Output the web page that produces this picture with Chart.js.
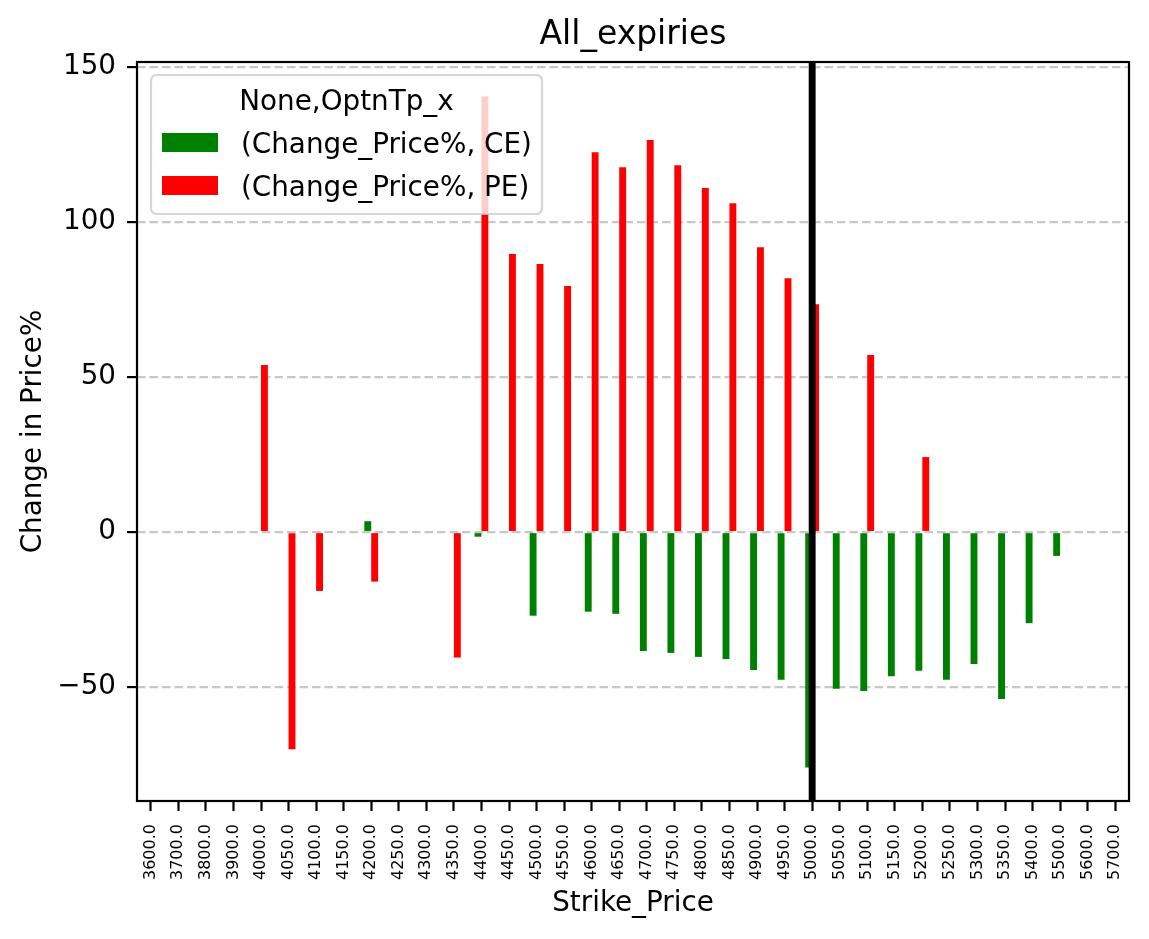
<!DOCTYPE html>
<html>
<head>
<meta charset="utf-8">
<script src="https://cdn.jsdelivr.net/npm/chart.js@4.4.1/dist/chart.umd.min.js"></script>
<style>
html, body { margin: 0; padding: 0; background: #ffffff; }
#wrap { width: 1149px; height: 939px; }
</style>
</head>
<body>
<div id="wrap"><canvas id="c" width="1149" height="939"></canvas></div>
<script>
// ---- data ----
const strikeLabels = ['3600.0','3700.0','3800.0','3900.0','4000.0','4050.0','4100.0','4150.0','4200.0','4250.0',
  '4300.0','4350.0','4400.0','4450.0','4500.0','4550.0','4600.0','4650.0','4700.0','4750.0',
  '4800.0','4850.0','4900.0','4950.0','5000.0','5050.0','5100.0','5150.0','5200.0','5250.0',
  '5300.0','5350.0','5400.0','5500.0','5600.0','5700.0'];
const ceChange = [null, null, null, null, null, null, null, null, 3.5, null,
  null, null, -1.5, null, -27.0, null, -25.7, -26.4, -38.4, -39.0,
  -40.3, -41.0, -44.5, -47.7, -76.0, -50.6, -51.3, -46.5, -44.8, -47.7,
  -42.6, -53.9, -29.4, -7.7, null, null];
const peChange = [null, null, null, null, 53.9, -70.1, -19.0, null, -16.0, null,
  null, -40.5, 140.6, 89.7, 86.5, 79.4, 122.6, 117.7, 126.5, 118.4,
  111.0, 106.1, 91.9, 81.9, 73.5, null, 57.1, null, 24.2, null,
  null, null, null, null, null, null];
const yTickValues = [-50, 0, 50, 100, 150];
const seriesNames = ['(Change_Price%, CE)', '(Change_Price%, PE)'];
const seriesColors = ['#008000', '#ff0000'];
const chartTitle = 'All_expiries';
const legendTitle = 'None,OptnTp_x';
const xAxisTitle = 'Strike_Price';
const yAxisTitle = 'Change in Price%';
const markerStrike = '5000.0';
const yMin = -86.8;
const yMax = 151.7;

const FONT = "'DejaVu Sans', 'Liberation Sans', sans-serif";

function roundRectPath(ctx, x, y, w, h, r) {
  ctx.beginPath();
  ctx.moveTo(x + r, y);
  ctx.lineTo(x + w - r, y);
  ctx.arcTo(x + w, y, x + w, y + r, r);
  ctx.lineTo(x + w, y + h - r);
  ctx.arcTo(x + w, y + h, x + w - r, y + h, r);
  ctx.lineTo(x + r, y + h);
  ctx.arcTo(x, y + h, x, y + h - r, r);
  ctx.lineTo(x, y + r);
  ctx.arcTo(x, y, x + r, y, r);
  ctx.closePath();
}

const overlayPlugin = {
  id: 'mplOverlay',
  afterDraw(chart) {
    const ctx = chart.ctx;
    const a = chart.chartArea;
    ctx.save();
    // axes spines
    ctx.strokeStyle = '#000000';
    ctx.lineWidth = 2.2;
    ctx.setLineDash([]);
    ctx.strokeRect(a.left, a.top, a.right - a.left, a.bottom - a.top);
    // vertical marker line at the chosen strike
    const idx = strikeLabels.indexOf(markerStrike);
    const px = chart.scales.x.getPixelForValue(idx);
    ctx.fillStyle = '#000000';
    ctx.fillRect(px - 3.4, a.top, 6.9, a.bottom - a.top);
    // legend (inside axes, upper left)
    const lx = a.left + 14, ly = a.top + 13, lw = 391, lh = 139;
    roundRectPath(ctx, lx, ly, lw, lh, 5.5);
    ctx.fillStyle = 'rgba(255,255,255,0.8)';
    ctx.fill();
    ctx.strokeStyle = 'rgba(204,204,204,0.8)';
    ctx.lineWidth = 2.2;
    ctx.stroke();
    ctx.font = '27.8px ' + FONT;
    ctx.fillStyle = '#000000';
    ctx.textBaseline = 'alphabetic';
    ctx.textAlign = 'center';
    ctx.fillText(legendTitle, lx + lw / 2, ly + 35);
    ctx.textAlign = 'left';
    chart.data.datasets.forEach((ds, i) => {
      const py = ly + 58 + i * 43;
      ctx.fillStyle = ds.backgroundColor;
      ctx.fillRect(lx + 11, py, 56, 19);
      ctx.fillStyle = '#000000';
      ctx.fillText(ds.label, lx + 90, py + 20);
    });
    ctx.restore();
  }
};

new Chart(document.getElementById('c'), {
  type: 'bar',
  data: {
    labels: strikeLabels,
    datasets: [
      { label: seriesNames[0], data: ceChange, backgroundColor: seriesColors[0], borderWidth: 0,
        categoryPercentage: 0.5, barPercentage: 1.0 },
      { label: seriesNames[1], data: peChange, backgroundColor: seriesColors[1], borderWidth: 0,
        categoryPercentage: 0.5, barPercentage: 1.0 }
    ]
  },
  options: {
    responsive: false,
    animation: false,
    devicePixelRatio: 1,
    layout: { padding: { left: 0, right: 20, top: 0, bottom: 0 } },
    plugins: {
      legend: { display: false },
      tooltip: { enabled: false },
      title: {
        display: true, text: chartTitle, color: '#000000', fullSize: false,
        font: { family: FONT, size: 33, weight: 'normal', lineHeight: 1.2 },
        padding: { top: 15.4, bottom: 7 }
      }
    },
    scales: {
      x: {
        type: 'category',
        offset: true,
        grid: { display: true, drawOnChartArea: false, offset: false, drawTicks: true,
                tickLength: 10, tickColor: '#000000', tickWidth: 2.2, color: '#000000', tickBorderDash: [] },
        border: { display: false },
        ticks: { autoSkip: false, minRotation: 90, maxRotation: 90, color: '#000000',
                 font: { family: FONT, size: 16 }, padding: 13 },
        title: { display: true, text: xAxisTitle, color: '#000000',
                 font: { family: FONT, size: 27.8, weight: 'normal', lineHeight: 1.2 },
                 padding: { top: 0, bottom: 18.6 } },
        afterFit(s) { s.height = 138; }
      },
      y: {
        type: 'linear',
        min: yMin,
        max: yMax,
        z: 1,
        afterBuildTicks(s) { s.ticks = yTickValues.map(v => ({ value: v })); },
        grid: { color: 'rgba(176,176,176,0.7)', lineWidth: 2.2, drawTicks: true, tickLength: 10,
                tickColor: '#000000', tickWidth: 2.2, tickBorderDash: [] },
        border: { display: false, dash: [8.5, 4] },
        ticks: { color: '#000000', font: { family: FONT, size: 27.8 }, padding: 11,
                 callback: (v) => (v < 0 ? '\u2212' + Math.abs(v) : String(v)) },
        title: { display: true, text: yAxisTitle, color: '#000000',
                 font: { family: FONT, size: 27.8, weight: 'normal', lineHeight: 1.2 },
                 padding: { top: 17.3, bottom: 0 } },
        afterFit(s) { s.width = 137; }
      }
    }
  },
  plugins: [overlayPlugin]
});
</script>
</body>
</html>
